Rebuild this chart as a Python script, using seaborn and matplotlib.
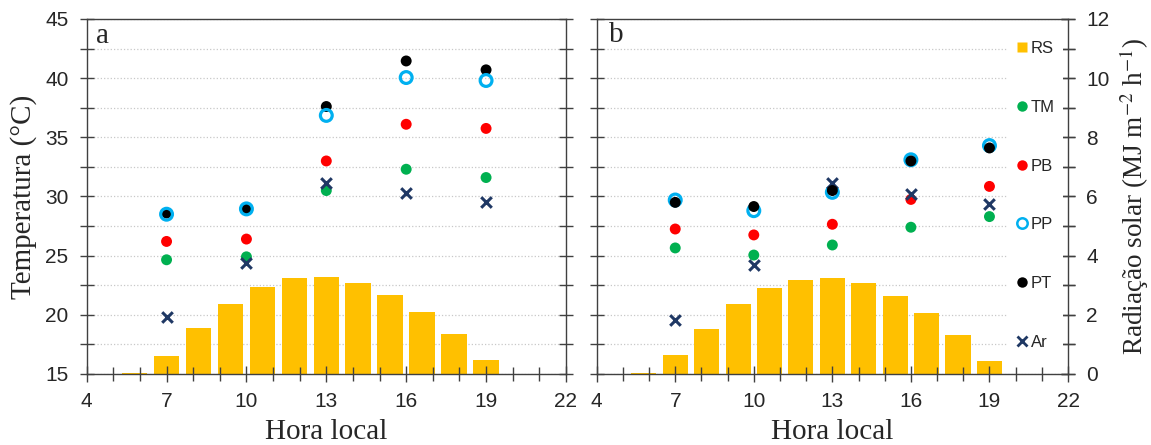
import numpy as np
import pandas as pd
import matplotlib
matplotlib.use('Agg')
import matplotlib.pyplot as plt
from matplotlib.ticker import MultipleLocator
from matplotlib.lines import Line2D
import seaborn as sns

# Hourly solar radiation (MJ m-2 h-1), one slot per hour from 5 h to 19 h
rs_hours = list(range(5, 20))
rs_a = [0.0, 0.04, 0.62, 1.56, 2.37, 2.95, 3.23, 3.27, 3.08, 2.68, 2.10, 1.36, 0.46, 0.0, 0.0]
rs_b = [0.0, 0.04, 0.63, 1.52, 2.37, 2.92, 3.19, 3.23, 3.08, 2.64, 2.05, 1.32, 0.43, 0.0, 0.0]

# Hours of the temperature readings
hours = [7, 10, 13, 16, 19]

# Temperatures (°C), panel a
tm_a = [24.65, 24.9, 30.5, 32.3, 31.6]
pb_a = [26.2, 26.4, 33.0, 36.1, 35.75]
pp_a = [28.5, 28.95, 36.85, 40.05, 39.8]
pt_a = [28.6, 28.95, 37.6, 41.45, 40.7]
ar_a = [19.8, 24.35, 31.15, 30.3, 29.5]

# Temperatures (°C), panel b
tm_b = [25.65, 25.05, 25.9, 27.4, 28.3]
pb_b = [27.25, 26.75, 27.65, 29.75, 30.85]
pp_b = [29.7, 28.8, 30.35, 33.1, 34.3]
pt_b = [29.5, 29.15, 30.5, 33.0, 34.1]
ar_b = [19.6, 24.25, 31.1, 30.2, 29.4]

series_order = ['RS', 'TM', 'PB', 'PP', 'PT', 'Ar']

# Marker styles for each series
styles = {
    'TM': dict(marker='o', s=62, color='#00B050', edgecolor='none'),
    'PB': dict(marker='o', s=62, color='#FF0000', edgecolor='none'),
    'PP': dict(marker='o', s=72, facecolor='none', edgecolor='#00B0F0', linewidth=2.3),
    'PT': dict(marker='o', s=62, color='black', edgecolor='none'),
    'Ar': dict(marker='x', s=58, color='#1F3864', linewidth=2.2),
}

sns.set_style('ticks')
plt.rcParams['font.family'] = ['Liberation Sans', 'DejaVu Sans']
plt.rcParams['mathtext.fontset'] = 'stix'
spine_color = '#404040'
serif = 'Liberation Serif'

fig = plt.figure(figsize=(11.51, 4.45), dpi=100)

panels = [
    dict(tag='a', rect=[0.0753, 0.1596, 0.4164, 0.7978], rs=rs_a,
         temps={'TM': tm_a, 'PB': pb_a, 'PP': pp_a, 'PT': pt_a, 'Ar': ar_a},
         draw=['TM', 'PB', 'Ar', 'PT', 'PP'], tag_pos=(0.019, 0.933)),
    dict(tag='b', rect=[0.5184, 0.1596, 0.4095, 0.7978], rs=rs_b,
         temps={'TM': tm_b, 'PB': pb_b, 'PP': pp_b, 'PT': pt_b, 'Ar': ar_b},
         draw=['TM', 'PB', 'PP', 'Ar', 'PT'], tag_pos=(0.025, 0.936)),
]

for i, panel in enumerate(panels):
    # Bars live on their own categorical axes underneath
    ax_bar = fig.add_axes(panel['rect'])
    bar_df = pd.DataFrame({'hora': rs_hours, 'rs': panel['rs']})
    sns.barplot(data=bar_df, x='hora', y='rs', order=rs_hours, color='#FFC000',
                saturation=1, width=0.8, errorbar=None, ax=ax_bar, linewidth=0)
    ax_bar.set_xlim(-0.5, len(rs_hours) - 0.5)
    ax_bar.set_ylim(0, 12)
    ax_bar.set_xticks([])
    ax_bar.set_xlabel('')
    ax_bar.set_ylabel('')
    for sp in ax_bar.spines.values():
        sp.set_visible(False)
    ax_bar.yaxis.set_major_locator(MultipleLocator(2))
    ax_bar.yaxis.set_minor_locator(MultipleLocator(1))
    ax_bar.grid(axis='y', which='both', linestyle=':', color='#c8c8c8', linewidth=0.9)
    ax_bar.set_axisbelow(True)
    if i == 1:
        ax_bar.tick_params(axis='y', which='both', left=False, labelleft=False,
                           right=True, labelright=True, direction='inout',
                           length=10, width=1, color=spine_color, pad=8, labelsize=15)
        ax_bar.yaxis.set_label_position('right')
        ax_bar.set_ylabel('Radiação solar (MJ m$^{-2}$ h$^{-1}$)', fontfamily=serif,
                          fontsize=19.5, rotation=90)
        ax_bar.yaxis.set_label_coords(1.104, 0.5)
    else:
        ax_bar.tick_params(axis='y', which='both', left=False, right=False,
                           labelleft=False)

    # Temperature points on top
    ax = fig.add_axes(panel['rect'])
    ax.patch.set_visible(False)
    for name in panel['draw']:
        sns.scatterplot(x=hours, y=panel['temps'][name], ax=ax, zorder=3,
                        **styles[name])
    ax.set_xlim(4, 22)
    ax.set_ylim(15, 45)
    ax.set_xticks(range(4, 23, 3))
    ax.xaxis.set_minor_locator(MultipleLocator(1))
    ax.yaxis.set_major_locator(MultipleLocator(5))
    ax.yaxis.set_minor_locator(MultipleLocator(2.5))
    for sp in ax.spines.values():
        sp.set_visible(True)
        sp.set_color(spine_color)
        sp.set_linewidth(1)
    ax.tick_params(axis='x', which='major', direction='inout', length=12, width=1,
                   color=spine_color, pad=7, labelsize=15, top=False)
    ax.tick_params(axis='x', which='minor', direction='inout', length=10, width=1,
                   color=spine_color, top=False)
    ax.tick_params(axis='y', which='both', direction='inout', length=10, width=1,
                   color=spine_color, left=True, right=True, labelright=False,
                   labelleft=(i == 0), pad=8, labelsize=15)
    ax.set_xlabel('Hora local', fontfamily=serif, fontsize=21)
    ax.xaxis.set_label_coords(0.5, -0.128)
    if i == 0:
        ax.set_ylabel('Temperatura (°C)', fontfamily=serif, fontsize=21)
        ax.yaxis.set_label_coords(-0.1037, 0.5)
    else:
        ax.set_ylabel('')
    ax.text(panel['tag_pos'][0], panel['tag_pos'][1], panel['tag'], transform=ax.transAxes,
            fontfamily=serif, fontsize=21, va='baseline', ha='left')

    if i == 1:
        handles = [Line2D([], [], linestyle='none', marker='s', markersize=7.5,
                          color='#FFC000', markeredgecolor='none')]
        for name in series_order[1:]:
            st = styles[name]
            if name == 'PP':
                h = Line2D([], [], linestyle='none', marker='o', markersize=7.5,
                           markerfacecolor='none', markeredgecolor=st['edgecolor'],
                           markeredgewidth=1.8)
            elif name == 'Ar':
                h = Line2D([], [], linestyle='none', marker='x', markersize=7.5,
                           color=st['color'], markeredgewidth=2)
            else:
                h = Line2D([], [], linestyle='none', marker='o', markersize=7.5,
                           color=st['color'], markeredgecolor='none')
            handles.append(h)
        leg = ax.legend(handles, series_order, loc='center right',
                        bbox_to_anchor=(0.99, 0.503), borderaxespad=0,
                        fontsize=12, labelspacing=2.62, handlelength=0.7,
                        handletextpad=0.2, borderpad=0.5, frameon=True,
                        fancybox=False)
        leg.get_frame().set_facecolor('white')
        leg.get_frame().set_edgecolor('none')
        leg.get_frame().set_alpha(1)

fig.savefig('out.png', dpi=100)
